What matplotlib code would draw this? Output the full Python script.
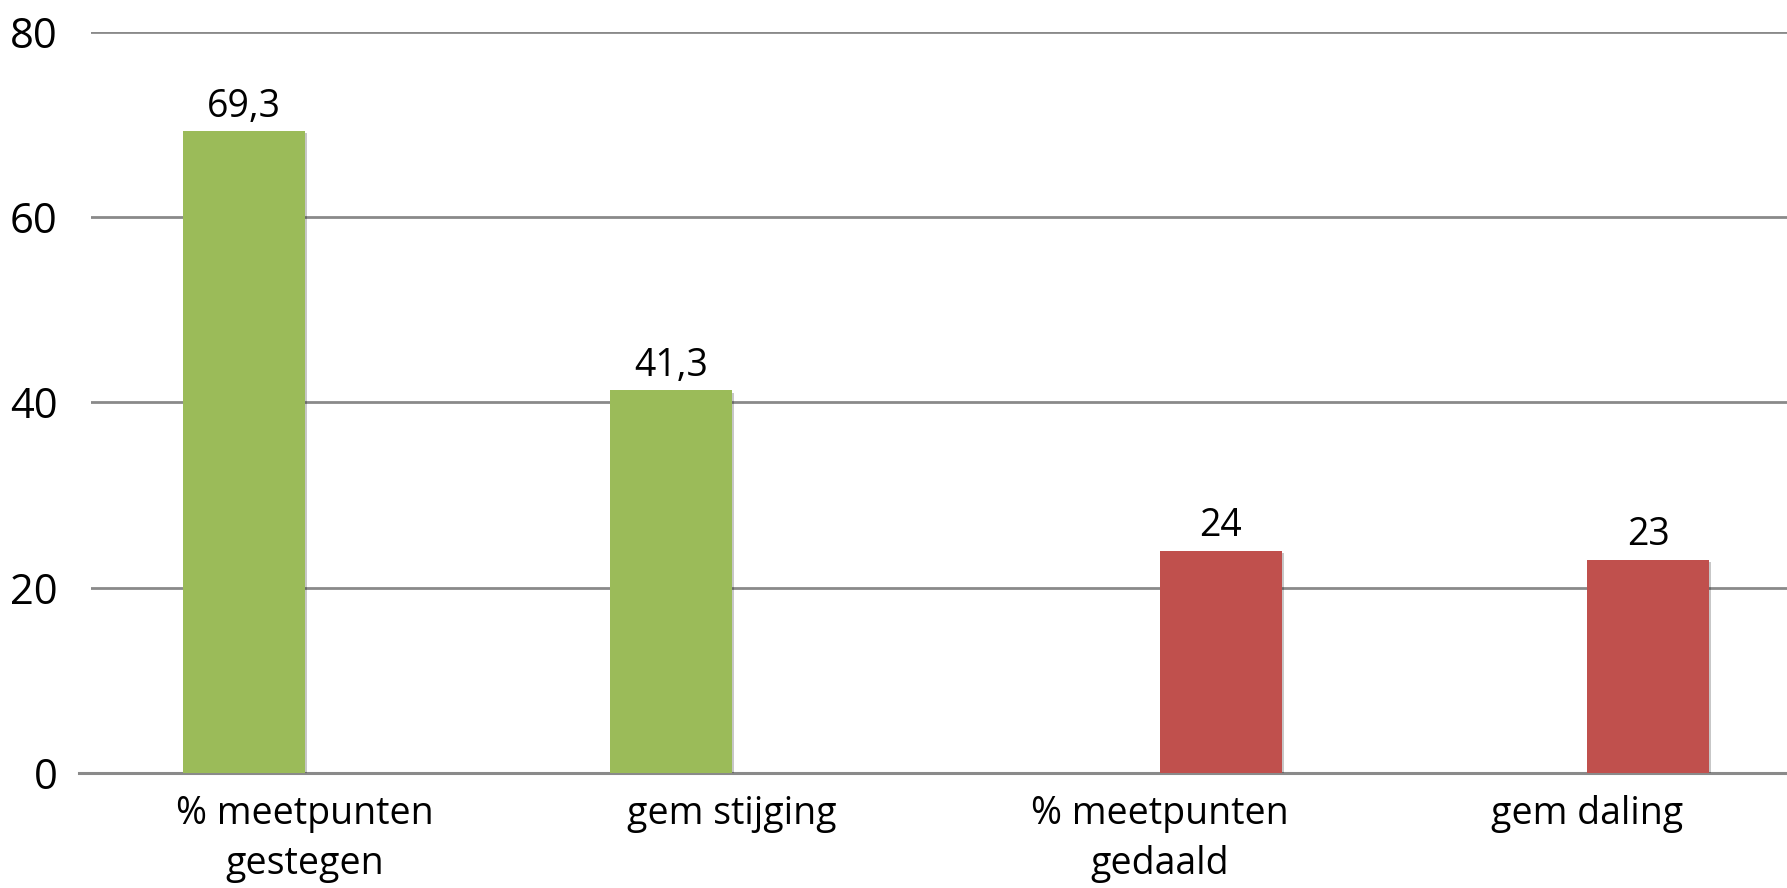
import matplotlib
matplotlib.use("Agg")
import matplotlib.pyplot as plt
import matplotlib.patheffects as pe
import numpy as np

categories = ["% meetpunten\ngestegen", "gem stijging", "% meetpunten\ngedaald", "gem daling"]
gestegen = [69.3, 41.3, np.nan, np.nan]
gedaald = [np.nan, np.nan, 24, 23]
yticks = [0, 20, 40, 60, 80]

GREEN = "#9BBB59"
RED = "#C0504D"
FONT = ["Open Sans", "DejaVu Sans"]
plt.rcParams["font.family"] = FONT

W, H = 1787, 888
fig = plt.figure(figsize=(W / 100, H / 100), dpi=100)
left_px, right_px = 91, 1787
bot_px, top_px = 773, 32
ax = fig.add_axes([left_px / W, (H - bot_px) / H, (right_px - left_px) / W, (bot_px - top_px) / H])

x = np.arange(len(categories))
bw = 0.285
shadow = [pe.SimplePatchShadow(offset=(1.5, -1.5), shadow_rgbFace="#000000", alpha=0.22), pe.Normal()]

b1 = ax.bar(x - bw / 2, gestegen, bw, color=GREEN, zorder=3)
b2 = ax.bar(x + bw / 2, gedaald, bw, color=RED, zorder=3)
for bars in (b1, b2):
    for r in bars:
        r.set_path_effects(shadow)

def fmt(v):
    s = f"{v:.1f}".rstrip("0").rstrip(".")
    return s.replace(".", ",")

for xs, vals in ((x - bw / 2, gestegen), (x + bw / 2, gedaald)):
    for xi, v in zip(xs, vals):
        if not np.isnan(v):
            ax.annotate(fmt(v), (xi, v), xytext=(0, 4), textcoords="offset points",
                        ha="center", va="bottom", fontsize=27, color="#000000")

ax.set_xlim(-0.5, -0.5 + (right_px - left_px) / 427.5)
ax.set_ylim(0, 80)
ax.set_yticks(yticks)
ax.set_yticklabels([str(t) for t in yticks])
ax.set_xticks(x)
ax.set_xticklabels(categories, linespacing=1.4)

ax.yaxis.grid(True, color="#8a8a8a", linewidth=2.0, zorder=0)
ax.set_axisbelow(True)
for s in ax.spines.values():
    s.set_visible(False)
ax.axhline(0, xmin=-12 / (right_px - left_px), xmax=1, color="#8a8a8a", linewidth=2.2, clip_on=False, zorder=2)

ax.tick_params(axis="x", length=0, labelsize=27, colors="#000000", pad=16)
ax.tick_params(axis="y", length=0, labelsize=30, colors="#000000", pad=24)

fig.savefig("out.png", dpi=100, facecolor="white")
